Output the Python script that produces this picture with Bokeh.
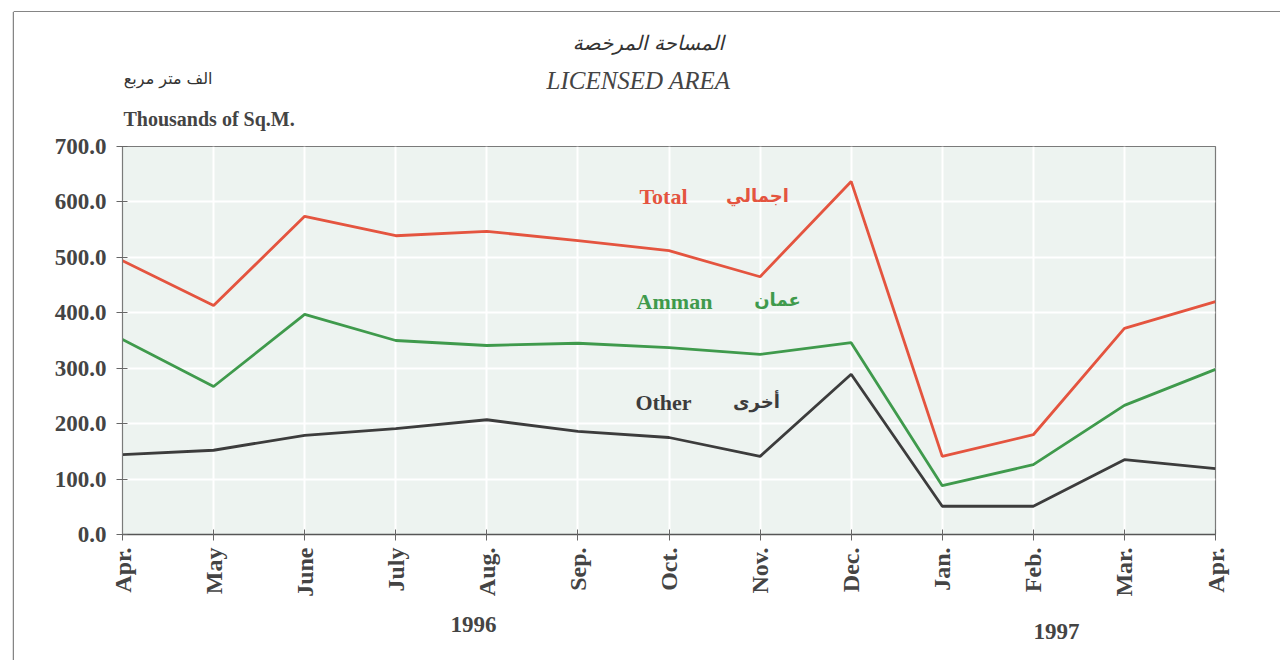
from bokeh.plotting import figure
from bokeh.models import Label, FixedTicker, NumeralTickFormatter, Range1d
from bokeh.layouts import row, column
from bokeh.embed import file_html
from bokeh.resources import INLINE
from math import pi

months = ["Apr.", "May", "June", "July", "Aug.", "Sep.", "Oct.", "Nov.", "Dec.",
          "Jan.", "Feb.", "Mar.", "Apr."]
total = [494, 413, 574, 539, 547, 530, 512, 465, 637, 141, 180, 372, 420]
amman = [352, 267, 397, 350, 341, 345, 337, 325, 346, 88, 126, 233, 298]
other = [144, 152, 179, 191, 207, 186, 175, 141, 289, 51, 51, 135, 119]
y_ticks = [0, 100, 200, 300, 400, 500, 600, 700]
years = ["1996", "1997"]

xs = list(range(len(months)))

SERIF = "Liberation Serif"
AR = "DejaVu Sans"
FRAME = "#858585"

# page geometry (pixels)
W, H = 1280, 660
SW = 14                     # left strip width (holds the page frame's left line)
CW = W - SW                 # content width
LINE_Y = 11                 # page frame top line
TOP0 = LINE_Y + 1           # content starts below the 1px top border
TOP_H, MAIN_H = 134 - TOP0, 471
BOT_H = 55
FL, FR, FT, FB = 122, 1215, 146, 534   # plot frame in page pixels


def blank(width, height, xr, yr):
    f = figure(width=width, height=height, output_backend="svg", toolbar_location=None,
               x_range=Range1d(*xr), y_range=Range1d(*yr),
               min_border=0, min_border_left=0, min_border_right=0,
               min_border_top=0, min_border_bottom=0)
    f.axis.visible = False
    f.grid.visible = False
    f.outline_line_color = None
    f.background_fill_color = "white"
    f.border_fill_color = "white"
    return f


def lab(f, text, x, y, font, size, color, style="normal", align="center"):
    f.add_layout(Label(x=x, y=y, text=text, text_font=font, text_font_size=size,
                       text_color=color, text_font_style=style, text_align=align,
                       text_baseline="middle"))


# left strip with the page frame's left line
strip = blank(SW, H, (0, SW), (H, 0))
strip.segment(x0=[13, 13], y0=[LINE_Y + 0.5, LINE_Y + 0.5], x1=[13, SW], y1=[H, LINE_Y + 0.5],
              line_color=FRAME, line_width=1.5)

# top area: titles (frame aligned with the chart frame, so x maps to page pixels)
top = blank(CW, TOP_H, (FL, FR), (TOP0 + TOP_H, TOP0))
lab(top, "المساحة المرخصة", 648, 42, AR, "20px", "#333333", "italic")
lab(top, "LICENSED AREA", 638, 80, SERIF, "25px", "#444444", "italic")
lab(top, "الف متر مربع", 212, 78, AR, "16px", "#333333", "normal", "right")
lab(top, "Thousands of Sq.M.", 123, 118, SERIF, "20px", "#444444", "bold", "left")

# main chart
p = figure(width=CW, height=MAIN_H, output_backend="svg", toolbar_location=None,
           x_range=Range1d(0, 12), y_range=Range1d(0, 700),
           min_border_left=FL - SW, min_border_right=W - FR,
           min_border_top=FT - 134, min_border_bottom=MAIN_H - (FB - 134))
p.background_fill_color = "#edf3f0"
p.border_fill_color = "white"
p.outline_line_color = "#7a7a7a"
p.outline_line_width = 1.2

p.xaxis.ticker = FixedTicker(ticks=xs)
p.xaxis.major_label_overrides = {i: m for i, m in enumerate(months)}
p.xaxis.major_label_orientation = pi / 2
p.xaxis.major_label_text_font = SERIF
p.xaxis.major_label_text_font_style = "bold"
p.xaxis.major_label_text_font_size = "24px"
p.xaxis.major_label_text_color = "#444444"
p.xaxis.major_tick_in = 5
p.xaxis.major_tick_out = 6
p.xaxis.minor_tick_line_color = None
p.xaxis.axis_line_color = "#555555"
p.xaxis.axis_line_width = 1.3
p.xaxis.major_tick_line_color = "#666666"
p.xaxis.major_label_standoff = 7

p.yaxis.ticker = FixedTicker(ticks=y_ticks)
p.yaxis.formatter = NumeralTickFormatter(format="0.0")
p.yaxis.major_label_text_font = SERIF
p.yaxis.major_label_text_font_style = "bold"
p.yaxis.major_label_text_font_size = "23px"
p.yaxis.major_label_text_color = "#444444"
p.yaxis.major_tick_in = 5
p.yaxis.major_tick_out = 6
p.yaxis.minor_tick_line_color = None
p.yaxis.axis_line_color = "#7a7a7a"
p.yaxis.major_tick_line_color = "#666666"
p.yaxis.major_label_standoff = 10

p.xgrid.grid_line_color = "white"
p.xgrid.grid_line_width = 2
p.ygrid.grid_line_color = "white"
p.ygrid.grid_line_width = 2

RED, GREEN, GREY = "#e4543f", "#3f9a4c", "#3c3c3c"
p.line(xs, total, line_color=RED, line_width=2.8)
p.line(xs, amman, line_color=GREEN, line_width=2.8)
p.line(xs, other, line_color=GREY, line_width=2.8)


def dx(px):
    return (px - FL) / (FR - FL) * 12


def dy(py):
    return (FB - py) / (FB - FT) * 700


lab(p, "Total", dx(663), dy(196), SERIF, "22px", RED, "bold")
lab(p, "اجمالي", dx(757), dy(195), AR, "18px", RED, "bold")
lab(p, "Amman", dx(674), dy(301), SERIF, "22px", GREEN, "bold")
lab(p, "عمان", dx(777), dy(299), AR, "18px", GREEN, "bold")
lab(p, "Other", dx(663), dy(402), SERIF, "22px", GREY, "bold")
lab(p, "أخرى", dx(756), dy(401), AR, "18px", GREY, "bold")

# bottom area: year labels
y0 = 134 + MAIN_H
bot = blank(CW, BOT_H, (FL, FR), (y0 + BOT_H, y0))
lab(bot, years[0], 473, 624, SERIF, "23px", "#444444", "bold")
lab(bot, years[1], 1056, 631, SERIF, "23px", "#444444", "bold")

content = column(top, p, bot, margin=(LINE_Y, 0, 0, 0),
                 styles={"border-top": "1px solid " + FRAME})
layout = row(strip, content)
open("out.html", "w").write(file_html(layout, INLINE))
